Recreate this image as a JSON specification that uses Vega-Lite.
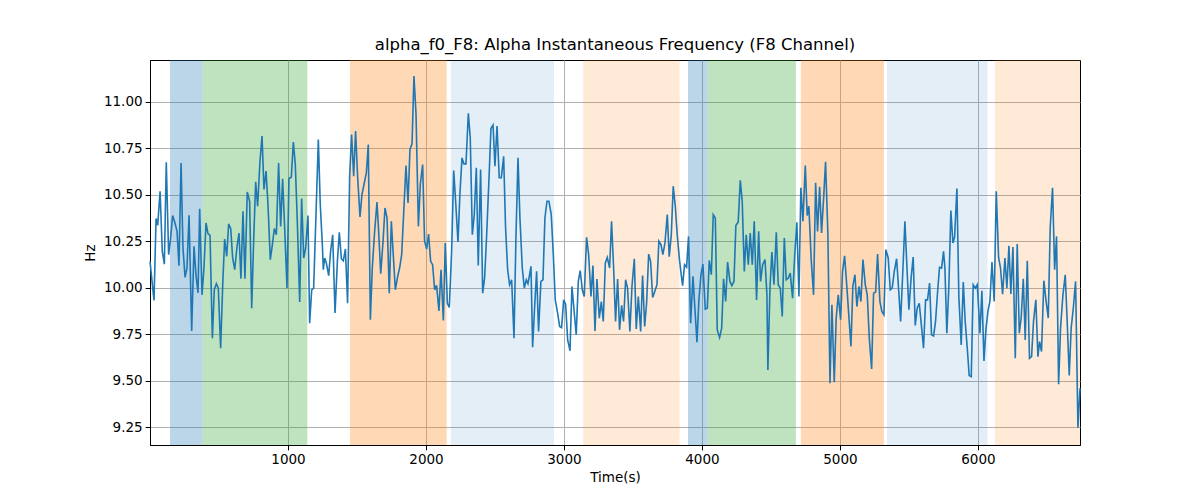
{
  "$schema": "https://vega.github.io/schema/vega-lite/v6.json",
  "width": 930,
  "height": 385,
  "autosize": {"type": "none"},
  "padding": {"left": 150, "top": 60, "right": 120, "bottom": 55},
  "config": {
    "font": "DejaVu Sans",
    "view": {"stroke": "black", "strokeWidth": 1},
    "axis": {
      "labelFont": "DejaVu Sans",
      "labelFontSize": 13.5,
      "labelColor": "black",
      "titleFont": "DejaVu Sans",
      "titleFontSize": 13.5,
      "titleFontWeight": "normal",
      "titleColor": "black",
      "tickColor": "black",
      "tickSize": 4.9,
      "tickWidth": 1,
      "domainColor": "black",
      "labelPadding": 3,
      "grid": true,
      "gridColor": "#b0b0b0",
      "gridWidth": 1
    }
  },
  "title": {
    "text": "alpha_f0_F8: Alpha Instantaneous Frequency (F8 Channel)",
    "font": "DejaVu Sans",
    "fontSize": 16.5,
    "fontWeight": "normal",
    "color": "black",
    "offset": 7
  },
  "datasets": {
    "bands": [
      {"start": 145, "end": 380, "stage": "A"},
      {"start": 380, "end": 1140, "stage": "B"},
      {"start": 1449, "end": 2150, "stage": "C"},
      {"start": 2181, "end": 2928, "stage": "D"},
      {"start": 3140, "end": 3838, "stage": "E"},
      {"start": 3899, "end": 4041, "stage": "A"},
      {"start": 4041, "end": 4681, "stage": "B"},
      {"start": 4717, "end": 5319, "stage": "C"},
      {"start": 5341, "end": 6070, "stage": "D"},
      {"start": 6123, "end": 6740, "stage": "E"}
    ],
    "series": [
      {"t":0,"hz":10.142},{"t":29,"hz":9.932},{"t":44,"hz":10.372},{"t":56,"hz":10.336},{"t":73,"hz":10.519},{"t":89,"hz":10.196},{"t":104,"hz":10.127},{"t":118,"hz":10.675},{"t":135,"hz":10.178},{"t":147,"hz":10.25},{"t":164,"hz":10.388},{"t":181,"hz":10.348},{"t":196,"hz":10.303},{"t":210,"hz":10.118},{"t":225,"hz":10.67},{"t":239,"hz":10.214},{"t":254,"hz":10.056},{"t":268,"hz":10.106},{"t":283,"hz":10.39},{"t":302,"hz":9.768},{"t":319,"hz":10.223},{"t":333,"hz":10.07},{"t":348,"hz":9.973},{"t":360,"hz":10.425},{"t":377,"hz":9.962},{"t":391,"hz":10.106},{"t":406,"hz":10.348},{"t":420,"hz":10.291},{"t":435,"hz":10.282},{"t":452,"hz":9.729},{"t":466,"hz":9.989},{"t":481,"hz":10.022},{"t":495,"hz":9.998},{"t":512,"hz":9.675},{"t":527,"hz":10.016},{"t":541,"hz":10.262},{"t":556,"hz":10.169},{"t":570,"hz":10.343},{"t":585,"hz":10.318},{"t":599,"hz":10.16},{"t":614,"hz":10.097},{"t":630,"hz":10.217},{"t":645,"hz":10.294},{"t":659,"hz":10.048},{"t":674,"hz":10.411},{"t":688,"hz":10.048},{"t":705,"hz":10.515},{"t":722,"hz":10.465},{"t":737,"hz":9.89},{"t":751,"hz":10.25},{"t":766,"hz":10.569},{"t":780,"hz":10.438},{"t":797,"hz":10.68},{"t":812,"hz":10.815},{"t":826,"hz":10.528},{"t":841,"hz":10.627},{"t":855,"hz":10.447},{"t":872,"hz":10.151},{"t":887,"hz":10.232},{"t":901,"hz":10.318},{"t":916,"hz":10.285},{"t":932,"hz":10.67},{"t":947,"hz":10.33},{"t":961,"hz":10.585},{"t":976,"hz":10.321},{"t":993,"hz":9.998},{"t":1007,"hz":10.587},{"t":1024,"hz":10.594},{"t":1039,"hz":10.783},{"t":1053,"hz":10.662},{"t":1068,"hz":10.348},{"t":1085,"hz":9.923},{"t":1099,"hz":10.479},{"t":1114,"hz":10.16},{"t":1128,"hz":10.214},{"t":1145,"hz":10.388},{"t":1157,"hz":9.81},
      {"t":1172,"hz":9.989},{"t":1186,"hz":9.998},{"t":1203,"hz":10.393},{"t":1220,"hz":10.797},{"t":1234,"hz":10.447},{"t":1249,"hz":10.232},{"t":1256,"hz":10.097},{"t":1266,"hz":10.16},{"t":1278,"hz":10.133},{"t":1295,"hz":10.065},{"t":1309,"hz":10.196},{"t":1324,"hz":10.285},{"t":1341,"hz":9.864},{"t":1358,"hz":10.142},{"t":1372,"hz":10.298},{"t":1387,"hz":10.156},{"t":1401,"hz":10.145},{"t":1416,"hz":10.208},{"t":1432,"hz":9.917},{"t":1447,"hz":10.6},{"t":1461,"hz":10.824},{"t":1476,"hz":10.6},{"t":1490,"hz":10.842},{"t":1505,"hz":10.591},{"t":1522,"hz":10.381},{"t":1536,"hz":10.501},{"t":1551,"hz":10.555},{"t":1568,"hz":10.618},{"t":1582,"hz":10.77},{"t":1597,"hz":9.828},{"t":1611,"hz":10.106},{"t":1628,"hz":10.303},{"t":1645,"hz":10.46},{"t":1657,"hz":10.303},{"t":1672,"hz":10.075},{"t":1689,"hz":10.25},{"t":1703,"hz":10.429},{"t":1718,"hz":10.375},{"t":1734,"hz":9.971},{"t":1749,"hz":10.357},{"t":1763,"hz":10.178},{"t":1778,"hz":9.989},{"t":1795,"hz":10.061},{"t":1809,"hz":10.106},{"t":1824,"hz":10.178},{"t":1838,"hz":10.393},{"t":1855,"hz":10.657},{"t":1870,"hz":10.456},{"t":1884,"hz":10.743},{"t":1899,"hz":10.774},{"t":1913,"hz":11.138},{"t":1928,"hz":10.932},{"t":1945,"hz":10.33},{"t":1959,"hz":10.555},{"t":1976,"hz":10.662},{"t":1990,"hz":10.25},{"t":2005,"hz":10.208},{"t":2019,"hz":10.289},{"t":2034,"hz":10.142},{"t":2048,"hz":10.124},{"t":2063,"hz":9.989},{"t":2077,"hz":10.013},{"t":2094,"hz":9.876},{"t":2109,"hz":10.097},{"t":2126,"hz":9.824},{"t":2140,"hz":10.241},{"t":2155,"hz":9.917},{"t":2169,"hz":9.894},{"t":2186,"hz":10.196},{"t":2201,"hz":10.63},{"t":2215,"hz":10.465},{"t":2232,"hz":10.246},{"t":2246,"hz":10.501},{"t":2261,"hz":10.698},{"t":2275,"hz":10.666},
      {"t":2290,"hz":10.666},{"t":2307,"hz":10.937},{"t":2321,"hz":10.806},{"t":2336,"hz":10.285},{"t":2350,"hz":10.393},{"t":2365,"hz":10.645},{"t":2379,"hz":10.12},{"t":2396,"hz":10.636},{"t":2411,"hz":9.971},{"t":2425,"hz":10.052},{"t":2440,"hz":10.285},{"t":2457,"hz":10.591},{"t":2471,"hz":10.856},{"t":2486,"hz":10.874},{"t":2500,"hz":10.653},{"t":2515,"hz":10.869},{"t":2531,"hz":10.591},{"t":2546,"hz":10.591},{"t":2563,"hz":10.706},{"t":2577,"hz":10.321},{"t":2592,"hz":10.097},{"t":2606,"hz":10.016},{"t":2621,"hz":10.043},{"t":2638,"hz":9.729},{"t":2652,"hz":10.267},{"t":2667,"hz":10.698},{"t":2681,"hz":10.375},{"t":2698,"hz":10.106},{"t":2713,"hz":9.998},{"t":2727,"hz":10.043},{"t":2739,"hz":10.022},{"t":2751,"hz":10.07},{"t":2761,"hz":10.115},{"t":2773,"hz":9.68},{"t":2787,"hz":9.89},{"t":2802,"hz":10.088},{"t":2816,"hz":9.765},{"t":2833,"hz":10.034},{"t":2848,"hz":10.043},{"t":2862,"hz":10.375},{"t":2877,"hz":10.465},{"t":2891,"hz":10.465},{"t":2908,"hz":10.393},{"t":2923,"hz":10.178},{"t":2937,"hz":9.935},{"t":2952,"hz":9.873},{"t":2969,"hz":9.792},{"t":2983,"hz":9.786},{"t":2998,"hz":9.935},{"t":3012,"hz":9.912},{"t":3027,"hz":9.72},{"t":3044,"hz":9.661},{"t":3058,"hz":10.007},{"t":3072,"hz":9.89},{"t":3089,"hz":9.747},{"t":3104,"hz":10.034},{"t":3118,"hz":10.092},{"t":3133,"hz":9.989},{"t":3147,"hz":9.953},{"t":3164,"hz":10.271},{"t":3179,"hz":10.178},{"t":3196,"hz":9.953},{"t":3210,"hz":10.12},{"t":3225,"hz":9.768},{"t":3239,"hz":10.047},{"t":3256,"hz":9.837},{"t":3271,"hz":9.926},{"t":3285,"hz":9.819},{"t":3300,"hz":10.133},{"t":3314,"hz":10.163},{"t":3331,"hz":10.106},{"t":3345,"hz":10.357},{"t":3360,"hz":10.106},{"t":3374,"hz":9.819},{"t":3389,"hz":10.047},{"t":3403,"hz":9.774},
      {"t":3418,"hz":9.905},{"t":3432,"hz":9.819},{"t":3447,"hz":10.043},{"t":3461,"hz":9.998},{"t":3478,"hz":9.765},{"t":3493,"hz":10.007},{"t":3510,"hz":10.156},{"t":3524,"hz":9.779},{"t":3539,"hz":9.953},{"t":3556,"hz":9.765},{"t":3570,"hz":10.066},{"t":3585,"hz":9.792},{"t":3599,"hz":9.917},{"t":3614,"hz":10.181},{"t":3628,"hz":10.142},{"t":3643,"hz":9.948},{"t":3657,"hz":9.977},{"t":3674,"hz":10.016},{"t":3688,"hz":10.25},{"t":3703,"hz":10.232},{"t":3717,"hz":10.178},{"t":3732,"hz":10.241},{"t":3749,"hz":10.393},{"t":3763,"hz":10.167},{"t":3778,"hz":10.285},{"t":3792,"hz":10.546},{"t":3807,"hz":10.438},{"t":3821,"hz":10.285},{"t":3836,"hz":10.16},{"t":3850,"hz":10.07},{"t":3860,"hz":10.011},{"t":3874,"hz":10.124},{"t":3889,"hz":10.111},{"t":3903,"hz":10.276},{"t":3918,"hz":9.81},{"t":3935,"hz":10.061},{"t":3949,"hz":9.89},{"t":3964,"hz":9.707},{"t":3978,"hz":9.935},{"t":3993,"hz":10.07},{"t":4007,"hz":10.127},{"t":4024,"hz":9.885},{"t":4039,"hz":9.89},{"t":4053,"hz":10.147},{"t":4068,"hz":10.07},{"t":4082,"hz":10.393},{"t":4097,"hz":10.375},{"t":4111,"hz":9.774},{"t":4128,"hz":9.732},{"t":4143,"hz":9.783},{"t":4157,"hz":10.048},{"t":4172,"hz":9.926},{"t":4186,"hz":10.138},{"t":4203,"hz":10.034},{"t":4217,"hz":10.011},{"t":4232,"hz":10.034},{"t":4246,"hz":10.334},{"t":4263,"hz":10.354},{"t":4278,"hz":10.578},{"t":4292,"hz":10.465},{"t":4307,"hz":10.088},{"t":4321,"hz":10.285},{"t":4336,"hz":10.124},{"t":4350,"hz":10.294},{"t":4365,"hz":10.124},{"t":4379,"hz":10.357},{"t":4396,"hz":9.935},{"t":4411,"hz":10.303},{"t":4425,"hz":10.034},{"t":4440,"hz":10.124},{"t":4457,"hz":10.151},{"t":4471,"hz":9.962},{"t":4478,"hz":9.558},{"t":4493,"hz":9.998},{"t":4507,"hz":10.192},{"t":4522,"hz":10.016},
      {"t":4539,"hz":10.298},{"t":4553,"hz":10.016},{"t":4568,"hz":9.998},{"t":4582,"hz":9.846},{"t":4597,"hz":10.267},{"t":4611,"hz":10.043},{"t":4626,"hz":10.052},{"t":4640,"hz":10.079},{"t":4657,"hz":9.944},{"t":4672,"hz":10.169},{"t":4688,"hz":10.352},{"t":4703,"hz":9.953},{"t":4717,"hz":10.537},{"t":4732,"hz":10.357},{"t":4749,"hz":10.657},{"t":4763,"hz":10.388},{"t":4775,"hz":10.438},{"t":4792,"hz":10.151},{"t":4809,"hz":9.962},{"t":4824,"hz":10.564},{"t":4838,"hz":10.303},{"t":4853,"hz":10.542},{"t":4867,"hz":10.294},{"t":4882,"hz":10.483},{"t":4896,"hz":10.677},{"t":4913,"hz":10.285},{"t":4928,"hz":9.487},{"t":4942,"hz":9.908},{"t":4959,"hz":9.492},{"t":4973,"hz":9.837},{"t":4988,"hz":9.962},{"t":5005,"hz":9.828},{"t":5019,"hz":10.088},{"t":5034,"hz":10.172},{"t":5051,"hz":9.998},{"t":5065,"hz":9.846},{"t":5080,"hz":9.684},{"t":5094,"hz":10.011},{"t":5109,"hz":10.07},{"t":5123,"hz":9.899},{"t":5138,"hz":10.007},{"t":5152,"hz":9.926},{"t":5167,"hz":10.151},{"t":5184,"hz":10.016},{"t":5198,"hz":9.962},{"t":5213,"hz":9.729},{"t":5230,"hz":9.564},{"t":5244,"hz":9.971},{"t":5259,"hz":9.977},{"t":5273,"hz":10.181},{"t":5290,"hz":9.926},{"t":5304,"hz":9.873},{"t":5319,"hz":9.855},{"t":5333,"hz":10.205},{"t":5350,"hz":10.16},{"t":5365,"hz":9.989},{"t":5379,"hz":9.998},{"t":5394,"hz":10.088},{"t":5411,"hz":10.156},{"t":5425,"hz":9.998},{"t":5440,"hz":9.819},{"t":5457,"hz":10.106},{"t":5471,"hz":10.357},{"t":5486,"hz":10.106},{"t":5500,"hz":9.882},{"t":5517,"hz":10.061},{"t":5531,"hz":10.165},{"t":5546,"hz":9.797},{"t":5560,"hz":9.89},{"t":5575,"hz":9.917},{"t":5589,"hz":9.81},{"t":5606,"hz":9.675},{"t":5621,"hz":9.935},{"t":5635,"hz":9.935},{"t":5650,"hz":10.025},
      {"t":5664,"hz":9.747},{"t":5679,"hz":9.741},{"t":5693,"hz":9.819},{"t":5708,"hz":9.98},{"t":5722,"hz":10.11},{"t":5737,"hz":10.106},{"t":5751,"hz":10.196},{"t":5761,"hz":10.106},{"t":5775,"hz":9.756},{"t":5790,"hz":10.016},{"t":5804,"hz":10.415},{"t":5819,"hz":10.241},{"t":5831,"hz":10.271},{"t":5848,"hz":10.533},{"t":5862,"hz":9.953},{"t":5879,"hz":9.693},{"t":5894,"hz":10.031},{"t":5908,"hz":9.819},{"t":5923,"hz":9.675},{"t":5937,"hz":9.528},{"t":5952,"hz":9.522},{"t":5966,"hz":10.016},{"t":5981,"hz":9.998},{"t":5995,"hz":10.016},{"t":6000,"hz":9.962},{"t":6015,"hz":9.756},{"t":6029,"hz":9.984},{"t":6044,"hz":9.607},{"t":6058,"hz":9.774},{"t":6073,"hz":9.876},{"t":6087,"hz":9.926},{"t":6102,"hz":10.138},{"t":6118,"hz":9.926},{"t":6133,"hz":10.519},{"t":6150,"hz":10.163},{"t":6164,"hz":10.106},{"t":6179,"hz":9.966},{"t":6196,"hz":10.16},{"t":6210,"hz":9.998},{"t":6225,"hz":10.226},{"t":6239,"hz":9.966},{"t":6254,"hz":10.219},{"t":6271,"hz":9.621},{"t":6285,"hz":10.235},{"t":6300,"hz":9.756},{"t":6314,"hz":9.84},{"t":6329,"hz":10.048},{"t":6343,"hz":9.72},{"t":6358,"hz":10.145},{"t":6374,"hz":9.621},{"t":6389,"hz":9.63},{"t":6403,"hz":9.819},{"t":6420,"hz":9.935},{"t":6435,"hz":9.63},{"t":6447,"hz":9.711},{"t":6461,"hz":9.657},{"t":6478,"hz":10.038},{"t":6493,"hz":9.935},{"t":6510,"hz":9.837},{"t":6524,"hz":10.321},{"t":6541,"hz":10.537},{"t":6556,"hz":10.097},{"t":6570,"hz":10.276},{"t":6585,"hz":9.481},{"t":6599,"hz":9.783},{"t":6616,"hz":9.959},{"t":6633,"hz":10.07},{"t":6647,"hz":9.822},{"t":6662,"hz":9.528},{"t":6676,"hz":9.783},{"t":6691,"hz":9.887},{"t":6708,"hz":10.034},{"t":6720,"hz":9.481},{"t":6725,"hz":9.248},{"t":6740,"hz":9.46}
    ]
  },
  "layer": [
    {
      "data": {"name": "bands"},
      "mark": {"type": "rect"},
      "encoding": {
        "x": {
          "field": "start",
          "type": "quantitative",
          "scale": {"domain": [0, 6740], "nice": false, "zero": false},
          "axis": {"title": "Time(s)", "values": [1000, 2000, 3000, 4000, 5000, 6000], "format": "d", "titlePadding": 4}
        },
        "x2": {"field": "end"},
        "color": {
          "field": "stage",
          "type": "nominal",
          "scale": {"domain": ["A", "B", "C", "D", "E"], "range": ["rgba(31,119,180,0.3)", "rgba(44,160,44,0.3)", "rgba(255,127,14,0.3)", "rgba(31,119,180,0.12)", "rgba(255,127,14,0.16)"]},
          "legend": null
        }
      }
    },
    {
      "data": {"name": "series"},
      "mark": {"type": "line", "color": "#1f77b4", "strokeWidth": 1.6},
      "encoding": {
        "x": {"field": "t", "type": "quantitative", "title": "Time(s)"},
        "y": {
          "field": "hz",
          "type": "quantitative",
          "scale": {"domain": [9.155, 11.224], "nice": false, "zero": false},
          "axis": {"title": "Hz", "values": [9.25, 9.5, 9.75, 10, 10.25, 10.5, 10.75, 11], "format": ".2f", "titlePadding": 6}
        }
      }
    }
  ]
}
